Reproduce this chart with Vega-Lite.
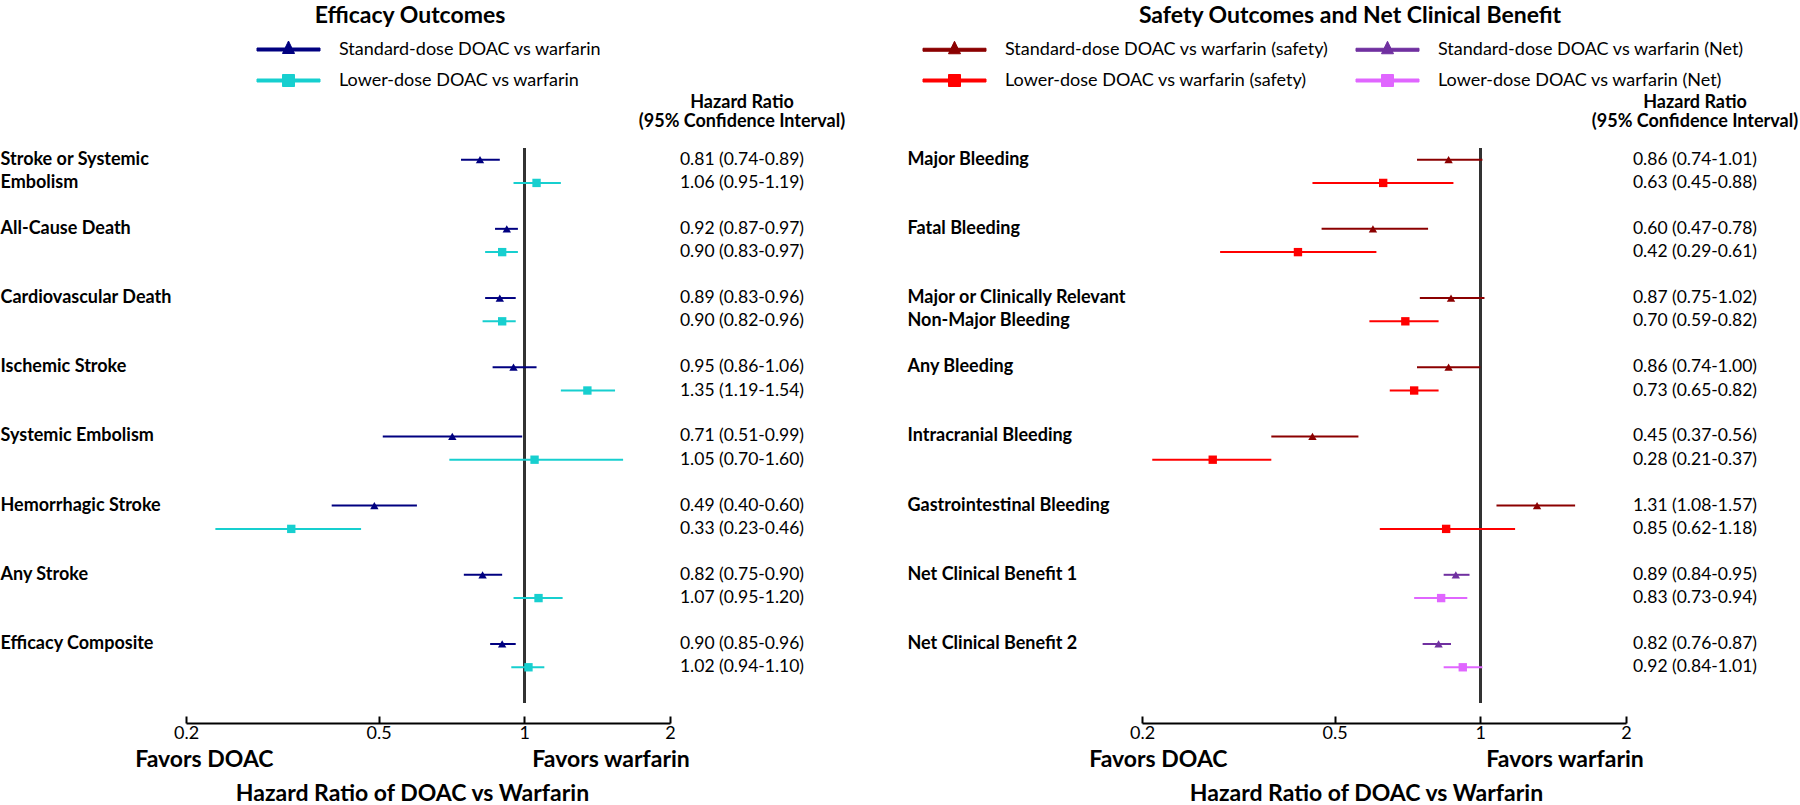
{
  "$schema": "https://vega.github.io/schema/vega-lite/v6.json",
  "padding": {"left": 0, "top": 5, "right": 0, "bottom": 0},
  "config": {
    "font": "Lato",
    "view": {"stroke": null},
    "title": {"color": "black"},
    "axis": {"labelColor": "black", "titleColor": "black"},
    "legend": {
      "orient": "none",
      "padding": 0,
      "symbolSize": 400,
      "symbolStrokeWidth": 1,
      "symbolOpacity": 1,
      "labelOffset": 40,
      "labelFont": "Lato",
      "labelFontSize": 18,
      "labelColor": "black",
      "labelLimit": 500,
      "rowPadding": 11,
      "title": null
    }
  },
  "datasets": {
    "efficacy": [
      {"key": "Stroke or Systemic|Embolism", "dose": "Standard", "series": "Standard-dose DOAC vs warfarin", "hr": 0.81, "lo": 0.74, "hi": 0.89, "txt": "0.81 (0.74-0.89)"},
      {"key": "Stroke or Systemic|Embolism", "dose": "Lower", "series": "Lower-dose DOAC vs warfarin", "hr": 1.06, "lo": 0.95, "hi": 1.19, "txt": "1.06 (0.95-1.19)"},
      {"key": "All-Cause Death|", "dose": "Standard", "series": "Standard-dose DOAC vs warfarin", "hr": 0.92, "lo": 0.87, "hi": 0.97, "txt": "0.92 (0.87-0.97)"},
      {"key": "All-Cause Death|", "dose": "Lower", "series": "Lower-dose DOAC vs warfarin", "hr": 0.90, "lo": 0.83, "hi": 0.97, "txt": "0.90 (0.83-0.97)"},
      {"key": "Cardiovascular Death|", "dose": "Standard", "series": "Standard-dose DOAC vs warfarin", "hr": 0.89, "lo": 0.83, "hi": 0.96, "txt": "0.89 (0.83-0.96)"},
      {"key": "Cardiovascular Death|", "dose": "Lower", "series": "Lower-dose DOAC vs warfarin", "hr": 0.90, "lo": 0.82, "hi": 0.96, "txt": "0.90 (0.82-0.96)"},
      {"key": "Ischemic Stroke|", "dose": "Standard", "series": "Standard-dose DOAC vs warfarin", "hr": 0.95, "lo": 0.86, "hi": 1.06, "txt": "0.95 (0.86-1.06)"},
      {"key": "Ischemic Stroke|", "dose": "Lower", "series": "Lower-dose DOAC vs warfarin", "hr": 1.35, "lo": 1.19, "hi": 1.54, "txt": "1.35 (1.19-1.54)"},
      {"key": "Systemic Embolism|", "dose": "Standard", "series": "Standard-dose DOAC vs warfarin", "hr": 0.71, "lo": 0.51, "hi": 0.99, "txt": "0.71 (0.51-0.99)"},
      {"key": "Systemic Embolism|", "dose": "Lower", "series": "Lower-dose DOAC vs warfarin", "hr": 1.05, "lo": 0.70, "hi": 1.60, "txt": "1.05 (0.70-1.60)"},
      {"key": "Hemorrhagic Stroke|", "dose": "Standard", "series": "Standard-dose DOAC vs warfarin", "hr": 0.49, "lo": 0.40, "hi": 0.60, "txt": "0.49 (0.40-0.60)"},
      {"key": "Hemorrhagic Stroke|", "dose": "Lower", "series": "Lower-dose DOAC vs warfarin", "hr": 0.33, "lo": 0.23, "hi": 0.46, "txt": "0.33 (0.23-0.46)"},
      {"key": "Any Stroke|", "dose": "Standard", "series": "Standard-dose DOAC vs warfarin", "hr": 0.82, "lo": 0.75, "hi": 0.90, "txt": "0.82 (0.75-0.90)"},
      {"key": "Any Stroke|", "dose": "Lower", "series": "Lower-dose DOAC vs warfarin", "hr": 1.07, "lo": 0.95, "hi": 1.20, "txt": "1.07 (0.95-1.20)"},
      {"key": "Efficacy Composite|", "dose": "Standard", "series": "Standard-dose DOAC vs warfarin", "hr": 0.90, "lo": 0.85, "hi": 0.96, "txt": "0.90 (0.85-0.96)"},
      {"key": "Efficacy Composite|", "dose": "Lower", "series": "Lower-dose DOAC vs warfarin", "hr": 1.02, "lo": 0.94, "hi": 1.10, "txt": "1.02 (0.94-1.10)"}
    ],
    "safety": [
      {"key": "Major Bleeding|", "dose": "Standard", "series": "Standard-dose DOAC vs warfarin (safety)", "hr": 0.86, "lo": 0.74, "hi": 1.01, "txt": "0.86 (0.74-1.01)"},
      {"key": "Major Bleeding|", "dose": "Lower", "series": "Lower-dose DOAC vs warfarin (safety)", "hr": 0.63, "lo": 0.45, "hi": 0.88, "txt": "0.63 (0.45-0.88)"},
      {"key": "Fatal Bleeding|", "dose": "Standard", "series": "Standard-dose DOAC vs warfarin (safety)", "hr": 0.60, "lo": 0.47, "hi": 0.78, "txt": "0.60 (0.47-0.78)"},
      {"key": "Fatal Bleeding|", "dose": "Lower", "series": "Lower-dose DOAC vs warfarin (safety)", "hr": 0.42, "lo": 0.29, "hi": 0.61, "txt": "0.42 (0.29-0.61)"},
      {"key": "Major or Clinically Relevant|Non-Major Bleeding", "dose": "Standard", "series": "Standard-dose DOAC vs warfarin (safety)", "hr": 0.87, "lo": 0.75, "hi": 1.02, "txt": "0.87 (0.75-1.02)"},
      {"key": "Major or Clinically Relevant|Non-Major Bleeding", "dose": "Lower", "series": "Lower-dose DOAC vs warfarin (safety)", "hr": 0.70, "lo": 0.59, "hi": 0.82, "txt": "0.70 (0.59-0.82)"},
      {"key": "Any Bleeding|", "dose": "Standard", "series": "Standard-dose DOAC vs warfarin (safety)", "hr": 0.86, "lo": 0.74, "hi": 1.00, "txt": "0.86 (0.74-1.00)"},
      {"key": "Any Bleeding|", "dose": "Lower", "series": "Lower-dose DOAC vs warfarin (safety)", "hr": 0.73, "lo": 0.65, "hi": 0.82, "txt": "0.73 (0.65-0.82)"},
      {"key": "Intracranial Bleeding|", "dose": "Standard", "series": "Standard-dose DOAC vs warfarin (safety)", "hr": 0.45, "lo": 0.37, "hi": 0.56, "txt": "0.45 (0.37-0.56)"},
      {"key": "Intracranial Bleeding|", "dose": "Lower", "series": "Lower-dose DOAC vs warfarin (safety)", "hr": 0.28, "lo": 0.21, "hi": 0.37, "txt": "0.28 (0.21-0.37)"},
      {"key": "Gastrointestinal Bleeding|", "dose": "Standard", "series": "Standard-dose DOAC vs warfarin (safety)", "hr": 1.31, "lo": 1.08, "hi": 1.57, "txt": "1.31 (1.08-1.57)"},
      {"key": "Gastrointestinal Bleeding|", "dose": "Lower", "series": "Lower-dose DOAC vs warfarin (safety)", "hr": 0.85, "lo": 0.62, "hi": 1.18, "txt": "0.85 (0.62-1.18)"},
      {"key": "Net Clinical Benefit 1|", "dose": "Standard", "series": "Standard-dose DOAC vs warfarin (Net)", "hr": 0.89, "lo": 0.84, "hi": 0.95, "txt": "0.89 (0.84-0.95)"},
      {"key": "Net Clinical Benefit 1|", "dose": "Lower", "series": "Lower-dose DOAC vs warfarin (Net)", "hr": 0.83, "lo": 0.73, "hi": 0.94, "txt": "0.83 (0.73-0.94)"},
      {"key": "Net Clinical Benefit 2|", "dose": "Standard", "series": "Standard-dose DOAC vs warfarin (Net)", "hr": 0.82, "lo": 0.76, "hi": 0.87, "txt": "0.82 (0.76-0.87)"},
      {"key": "Net Clinical Benefit 2|", "dose": "Lower", "series": "Lower-dose DOAC vs warfarin (Net)", "hr": 0.92, "lo": 0.84, "hi": 1.01, "txt": "0.92 (0.84-1.01)"}
    ]
  },
  "bounds": "flush",
  "spacing": 10,
  "resolve": {"scale": {"color": "independent", "shape": "independent"}},
  "hconcat": [
    {
      "data": {"name": "efficacy"},
      "width": 484,
      "height": 555,
      "title": {"text": "Efficacy Outcomes", "frame": "group", "anchor": "middle", "fontSize": 23, "fontWeight": "bold", "dx": -18, "offset": 11},
      "layer": [
        {"mark": {"type": "rule", "color": "#333333", "strokeWidth": 2},
         "encoding": {"x": {"datum": 1, "type": "quantitative", "title": ["\u2003Favors DOAC\u2003\u2003\u2003\u2003\u2003\u2003\u2003\u2003\u2003\u2003\u2003\u2003\u2003\u2003\u2003Favors warfarin", "Hazard Ratio of DOAC vs Warfarin"]}}},
        {
          "encoding": {
            "y": {"field": "key", "type": "nominal", "sort": null,
                  "scale": {"paddingInner": 0.327, "paddingOuter": 0.174, "align": 0},
                  "axis": {"title": null, "domain": false, "ticks": false, "tickSize": 0, "labelAlign": "left", "labelBaseline": "middle", "labelPadding": 186, "labelOffset": -11.65, "labelFontSize": 18, "labelFontWeight": "bold", "labelLineHeight": 23.3, "labelLimit": 400, "labelOverlap": false, "labelExpr": "split(datum.value, '|')"}},
            "yOffset": {"field": "dose", "type": "nominal", "sort": null, "scale": {"domain": ["Standard", "Lower"], "paddingInner": 0, "paddingOuter": 0}},
            "color": {"field": "series", "type": "nominal",
                      "scale": {"domain": ["Standard-dose DOAC vs warfarin", "Lower-dose DOAC vs warfarin"], "range": ["#000080", "#17CFCF"]},
                      "legend": {"legendX": 92, "legendY": -109,
                                 "symbolType": {"expr": "indexof(datum.value, 'Standard') === 0 ? 'M-3.15,-0.15H3.15V0.15H-3.15Z M0,-0.85L0.6,0.4H-0.6Z' : 'M-3.15,-0.15H3.15V0.15H-3.15Z M-0.6,-0.6H0.6V0.6H-0.6Z'"},
                                 "symbolFillColor": {"expr": "indexof(datum.value, 'Standard') === 0 ? '#000080' : '#17CFCF'"},
                                 "symbolStrokeColor": {"expr": "indexof(datum.value, 'Standard') === 0 ? '#000080' : '#17CFCF'"}}}
          },
          "layer": [
            {"mark": {"type": "point", "filled": true, "opacity": 1, "size": 70},
             "encoding": {
               "x": {"field": "hr", "type": "quantitative", "title": ["\u2003Favors DOAC\u2003\u2003\u2003\u2003\u2003\u2003\u2003\u2003\u2003\u2003\u2003\u2003\u2003\u2003\u2003Favors warfarin", "Hazard Ratio of DOAC vs Warfarin"]},
               "shape": {"field": "dose", "type": "nominal", "scale": {"domain": ["Standard", "Lower"], "range": ["triangle-up", "square"]}, "legend": null}}},
            {"mark": {"type": "rule", "strokeWidth": 2},
             "encoding": {
               "x": {"field": "lo", "type": "quantitative",
                     "scale": {"type": "log", "domain": [0.2, 2], "nice": false},
                     "title": ["\u2003Favors DOAC\u2003\u2003\u2003\u2003\u2003\u2003\u2003\u2003\u2003\u2003\u2003\u2003\u2003\u2003\u2003Favors warfarin", "Hazard Ratio of DOAC vs Warfarin"],
                     "axis": {"values": [0.2, 0.5, 1, 2], "format": "~g", "grid": false, "offset": 20, "domainColor": "black", "domainWidth": 2, "tickColor": "black", "tickWidth": 2, "tickSize": -7, "labelFontSize": 18, "labelPadding": 8, "labelFlush": false, "labelOverlap": false,
                              "titleFontSize": 23, "titleFontWeight": "bold", "titleLineHeight": 34, "titleX": 226, "titleAlign": "center", "titlePadding": 6}},
               "x2": {"field": "hi"}}}
          ]
        }
      ]
    },
    {
      "data": {"name": "efficacy"},
      "width": 124,
      "height": 555,
      "title": {"text": ["Hazard Ratio", "(95% Confidence Interval)"], "frame": "group", "anchor": "middle", "fontSize": 18, "fontWeight": "bold", "lineHeight": 19, "offset": 17},
      "mark": {"type": "text", "fontSize": 17.5, "align": "center", "baseline": "middle", "color": "black"},
      "encoding": {
        "y": {"field": "key", "type": "nominal", "sort": null, "scale": {"paddingInner": 0.327, "paddingOuter": 0.174, "align": 0}, "axis": null},
        "yOffset": {"field": "dose", "type": "nominal", "sort": null, "scale": {"domain": ["Standard", "Lower"], "paddingInner": 0, "paddingOuter": 0}},
        "text": {"field": "txt"}
      }
    },
    {
      "data": {"values": [{"spacer": 1}]},
      "width": 318,
      "height": 555,
      "mark": {"type": "point", "opacity": 0}
    },
    {
      "data": {"name": "safety"},
      "width": 484,
      "height": 555,
      "title": {"text": "Safety Outcomes and Net Clinical Benefit", "frame": "group", "anchor": "middle", "fontSize": 23, "fontWeight": "bold", "dx": -34, "offset": 11},
      "layer": [
        {"mark": {"type": "rule", "color": "#333333", "strokeWidth": 2},
         "encoding": {"x": {"datum": 1, "type": "quantitative", "title": ["\u2003Favors DOAC\u2003\u2003\u2003\u2003\u2003\u2003\u2003\u2003\u2003\u2003\u2003\u2003\u2003\u2003\u2003Favors warfarin", "Hazard Ratio of DOAC vs Warfarin"]}}},
        {
          "encoding": {
            "y": {"field": "key", "type": "nominal", "sort": null,
                  "scale": {"paddingInner": 0.327, "paddingOuter": 0.174, "align": 0},
                  "axis": {"title": null, "domain": false, "ticks": false, "tickSize": 0, "labelAlign": "left", "labelBaseline": "middle", "labelPadding": 235, "labelOffset": -11.65, "labelFontSize": 18, "labelFontWeight": "bold", "labelLineHeight": 23.3, "labelLimit": 400, "labelOverlap": false, "labelExpr": "split(datum.value, '|')"}},
            "yOffset": {"field": "dose", "type": "nominal", "sort": null, "scale": {"domain": ["Standard", "Lower"], "paddingInner": 0, "paddingOuter": 0}},
            "color": {"field": "series", "type": "nominal",
                      "scale": {"domain": ["Standard-dose DOAC vs warfarin (safety)", "Lower-dose DOAC vs warfarin (safety)", "Standard-dose DOAC vs warfarin (Net)", "Lower-dose DOAC vs warfarin (Net)"], "range": ["#8B0000", "#FF0000", "#7030A0", "#E066FF"]},
                      "legend": {"legendX": -198, "legendY": -109, "columns": 2, "columnPadding": 25,
                                 "symbolType": {"expr": "indexof(datum.value, 'Standard') === 0 ? 'M-3.15,-0.15H3.15V0.15H-3.15Z M0,-0.85L0.6,0.4H-0.6Z' : 'M-3.15,-0.15H3.15V0.15H-3.15Z M-0.6,-0.6H0.6V0.6H-0.6Z'"},
                                 "symbolFillColor": {"expr": "datum.value === 'Standard-dose DOAC vs warfarin (safety)' ? '#8B0000' : datum.value === 'Lower-dose DOAC vs warfarin (safety)' ? '#FF0000' : datum.value === 'Standard-dose DOAC vs warfarin (Net)' ? '#7030A0' : '#E066FF'"},
                                 "symbolStrokeColor": {"expr": "datum.value === 'Standard-dose DOAC vs warfarin (safety)' ? '#8B0000' : datum.value === 'Lower-dose DOAC vs warfarin (safety)' ? '#FF0000' : datum.value === 'Standard-dose DOAC vs warfarin (Net)' ? '#7030A0' : '#E066FF'"}}}
          },
          "layer": [
            {"mark": {"type": "point", "filled": true, "opacity": 1, "size": 70},
             "encoding": {
               "x": {"field": "hr", "type": "quantitative", "title": ["\u2003Favors DOAC\u2003\u2003\u2003\u2003\u2003\u2003\u2003\u2003\u2003\u2003\u2003\u2003\u2003\u2003\u2003Favors warfarin", "Hazard Ratio of DOAC vs Warfarin"]},
               "shape": {"field": "dose", "type": "nominal", "scale": {"domain": ["Standard", "Lower"], "range": ["triangle-up", "square"]}, "legend": null}}},
            {"mark": {"type": "rule", "strokeWidth": 2},
             "encoding": {
               "x": {"field": "lo", "type": "quantitative",
                     "scale": {"type": "log", "domain": [0.2, 2], "nice": false},
                     "title": ["\u2003Favors DOAC\u2003\u2003\u2003\u2003\u2003\u2003\u2003\u2003\u2003\u2003\u2003\u2003\u2003\u2003\u2003Favors warfarin", "Hazard Ratio of DOAC vs Warfarin"],
                     "axis": {"values": [0.2, 0.5, 1, 2], "format": "~g", "grid": false, "offset": 20, "domainColor": "black", "domainWidth": 2, "tickColor": "black", "tickWidth": 2, "tickSize": -7, "labelFontSize": 18, "labelPadding": 8, "labelFlush": false, "labelOverlap": false,
                              "titleFontSize": 23, "titleFontWeight": "bold", "titleLineHeight": 34, "titleX": 224, "titleAlign": "center", "titlePadding": 6}},
               "x2": {"field": "hi"}}}
          ]
        }
      ]
    },
    {
      "data": {"name": "safety"},
      "width": 118,
      "height": 555,
      "title": {"text": ["Hazard Ratio", "(95% Confidence Interval)"], "frame": "group", "anchor": "middle", "fontSize": 18, "fontWeight": "bold", "lineHeight": 19, "offset": 17},
      "mark": {"type": "text", "fontSize": 17.5, "align": "center", "baseline": "middle", "color": "black"},
      "encoding": {
        "y": {"field": "key", "type": "nominal", "sort": null, "scale": {"paddingInner": 0.327, "paddingOuter": 0.174, "align": 0}, "axis": null},
        "yOffset": {"field": "dose", "type": "nominal", "sort": null, "scale": {"domain": ["Standard", "Lower"], "paddingInner": 0, "paddingOuter": 0}},
        "text": {"field": "txt"}
      }
    }
  ]
}
